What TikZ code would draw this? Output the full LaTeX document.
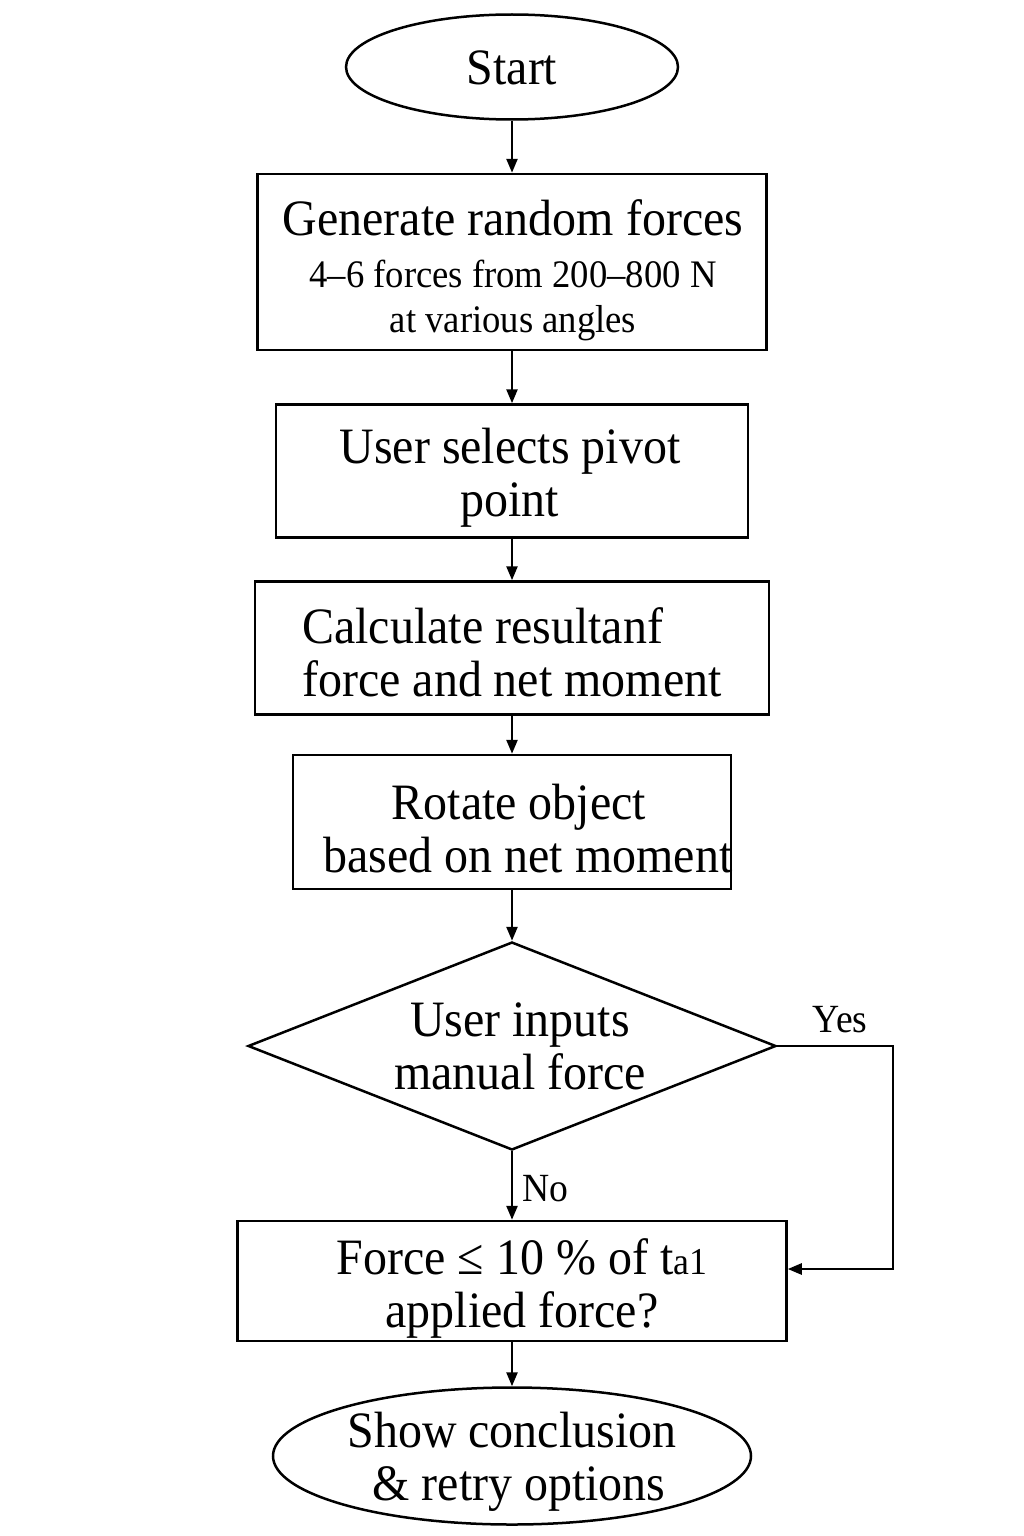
\documentclass[tikz,border=0pt]{standalone}
\usepackage{fontspec}
\setmainfont[FakeStretch=0.94]{Liberation Serif}
\usetikzlibrary{shapes.geometric,arrows.meta}
\newcommand\FBig{\fontsize{51}{53}\selectfont}
\newcommand\FMid{\fontsize{39}{45}\selectfont}
\newcommand\FSm{\fontsize{40}{44}\selectfont}
\begin{document}
\begin{tikzpicture}[x=1pt,y=-1pt,line width=2.5pt,
  box/.style={draw,rectangle,inner sep=0pt},
  term/.style={draw,ellipse,inner sep=0pt},
  txt/.style={inner sep=0pt,align=center,font=\FBig},
  arr/.style={-{Triangle[length=14pt,width=11pt]}}]
\useasboundingbox[fill=white] (0,0) rectangle (1024,1536);

% shapes
\node[term,minimum width=332pt,minimum height=105pt] (start) at (512,67) {};
\node[box,minimum width=509pt,minimum height=176pt] (b1) at (512,262) {};
\node[box,minimum width=472pt,minimum height=133pt] (b2) at (512,471) {};
\node[box,minimum width=514pt,minimum height=133pt] (b3) at (512,648) {};
\node[box,minimum width=438pt,minimum height=134pt] (b4) at (512,822) {};
\node[draw,diamond,inner sep=0pt,minimum width=528pt,minimum height=208pt] (dec) at (512,1046) {};
\node[box,minimum width=549pt,minimum height=120pt] (b5) at (512,1281) {};
\node[term,minimum width=478pt,minimum height=137pt] (end) at (512,1456) {};

% texts
\node[txt] (tstart) at (512,68) {Start};
\node[txt,font=\FMid] (t1) at (513,270)
  {{\FBig Generate random forces}\\[7pt]4–6 forces from 200–800 N\\at various angles};
\node[txt] (t2) at (510,478) {User selects pivot\\point};
\node[txt,align=left] (t3) at (512,652) {Calculate resultanf\\force and net moment};
\node[txt] (t4) at (512,829)
  {\hspace*{14pt}Rotate object\\\hspace*{32pt}based on net moment};
\node[txt] (t5) at (520,1046) {User inputs\\manual force};
\node[txt] (t6) at (522,1288)
  {Force ≤ 10 \% of t{\fontsize{38}{38}\selectfont a1}\\applied force?};
\node[txt] (t7) at (512,1462) {Show conclusion\\\hspace*{14pt}\& retry options};

% connectors
\draw[arr] (start) -- (b1);
\draw[arr] (b1) -- (b2);
\draw[arr] (b2) -- (b3);
\draw[arr] (b3) -- (b4);
\draw[arr] (b4) -- (dec);
\draw[arr] (dec.south) -- node[pos=0.55,anchor=west,xshift=6pt,font=\FSm] (no) {No} (b5.north);
\coordinate (yc) at (893,1046);
\draw[arr] (dec.east) -- (yc) |- ([yshift=12pt]b5.east);
\node[font=\FSm] (yes) at (840,1020) {Yes};
\draw[arr] (b5) -- (end);
\end{tikzpicture}
\end{document}
